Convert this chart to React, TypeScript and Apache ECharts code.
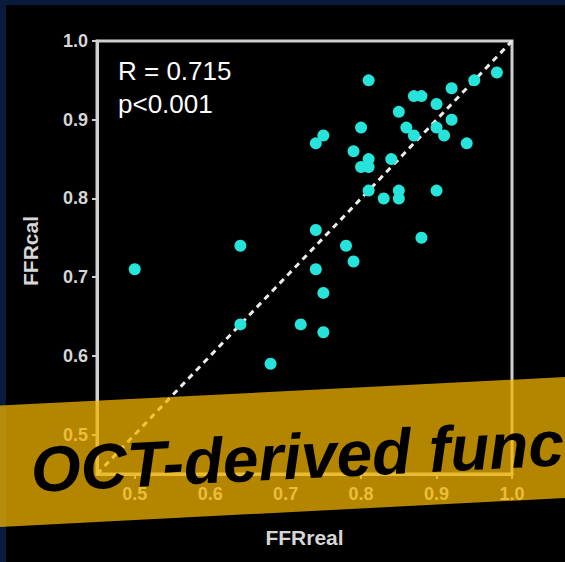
import React, { useEffect, useRef } from "react";
import * as echarts from "echarts";

const xTicks = [0.5, 0.6, 0.7, 0.8, 0.9, 1.0];
const ffrReal = [
  0.50, 0.64, 0.64, 0.68, 0.72, 0.74, 0.74, 0.75, 0.75, 0.74, 0.75, 0.78, 0.79,
  0.80, 0.79, 0.80, 0.81, 0.81, 0.81, 0.81, 0.83, 0.84, 0.85, 0.85, 0.85, 0.86,
  0.87, 0.87, 0.88, 0.88, 0.90, 0.90, 0.90, 0.91, 0.92, 0.92, 0.94, 0.95, 0.98,
];
const ffrCal = [
  0.71, 0.74, 0.64, 0.59, 0.64, 0.76, 0.71, 0.68, 0.63, 0.87, 0.88, 0.74, 0.72,
  0.89, 0.86, 0.84, 0.85, 0.84, 0.95, 0.81, 0.80, 0.85, 0.91, 0.81, 0.80, 0.89,
  0.88, 0.93, 0.93, 0.75, 0.92, 0.81, 0.89, 0.88, 0.94, 0.90, 0.87, 0.95, 0.96,
];
const identityLine = [
  [0.45, 0.45],
  [1.0, 1.0],
];
const statLines = ["R = 0.715", "p<0.001"];
const bannerText = "OCT-derived func";

export default function App() {
  const ref = useRef<HTMLDivElement>(null);
  useEffect(() => {
    document.body.style.margin = "0";
    if (!ref.current) return;
    const chart = echarts.init(ref.current, null, { renderer: "svg" });
    const labelStyle = {
      color: "#d6d6d6",
      fontWeight: "bold" as const,
      fontSize: 18,
      fontFamily: "Liberation Sans, Arial, sans-serif",
    };
    chart.setOption({
      animation: false,
      backgroundColor: "#0b1a3c",
      grid: {
        left: 97,
        right: 53,
        top: 41,
        bottom: 88,
        show: true,
        borderColor: "#cfcfcf",
        borderWidth: 3,
        backgroundColor: "transparent",
      },
      xAxis: {
        type: "value",
        min: 0.45,
        max: 1.0,
        interval: 0.05,
        name: "FFRreal",
        nameLocation: "middle",
        nameGap: 53,
        nameTextStyle: { ...labelStyle, fontSize: 21 },
        axisLine: { show: true, lineStyle: { color: "#cfcfcf", width: 3 } },
        axisTick: {
          show: true,
          length: 5,
          lineStyle: { color: "#cfcfcf", width: 2 },
          customValues: xTicks,
        },
        axisLabel: {
          ...labelStyle,
          margin: 11,
          customValues: xTicks,
          formatter: (v: number) => v.toFixed(1),
        },
        splitLine: { show: false },
      },
      yAxis: {
        type: "value",
        min: 0.45,
        max: 1.0,
        interval: 0.05,
        name: "FFRcal",
        nameLocation: "middle",
        nameGap: 56,
        nameTextStyle: { ...labelStyle, fontSize: 21, padding: [0, 0, 0, 13] },
        axisLine: { show: true, lineStyle: { color: "#cfcfcf", width: 3 } },
        axisTick: {
          show: true,
          length: 5,
          lineStyle: { color: "#cfcfcf", width: 2 },
          customValues: xTicks,
        },
        axisLabel: {
          ...labelStyle,
          margin: 9,
          customValues: xTicks,
          formatter: (v: number) => v.toFixed(1),
        },
        splitLine: { show: false },
      },
      series: [
        {
          type: "line",
          data: identityLine,
          symbol: "none",
          z: 1,
          lineStyle: { color: "#ececec", width: 3, type: [6, 5] },
        },
        {
          type: "scatter",
          data: ffrReal.map((x, i) => [x, ffrCal[i]]),
          symbolSize: 12,
          z: 3,
          itemStyle: { color: "#26e4da", opacity: 1 },
        },
      ],
      graphic: [
        {
          type: "rect",
          z: -10,
          shape: { x: 6, y: 5, width: 559, height: 557 },
          style: { fill: "#000000" },
        },
        {
          type: "text",
          z: 50,
          x: 118,
          y: 71,
          style: {
            text: statLines[0],
            fill: "#ffffff",
            font: "26px 'Liberation Sans', Arial, sans-serif",
            textVerticalAlign: "middle",
          },
        },
        {
          type: "text",
          z: 50,
          x: 118,
          y: 104,
          style: {
            text: statLines[1],
            fill: "#ffffff",
            font: "26px 'Liberation Sans', Arial, sans-serif",
            textVerticalAlign: "middle",
          },
        },
        {
          type: "polygon",
          z: 100,
          shape: {
            points: [
              [0, 405.6],
              [565, 377],
              [565, 498],
              [0, 527],
            ],
          },
          style: { fill: "rgba(243,181,0,0.74)" },
        },
        {
          type: "text",
          z: 101,
          x: 31,
          y: 470,
          rotation: 0.05,
          style: {
            text: bannerText,
            fill: "#000000",
            font: "italic bold 64px 'Liberation Sans', Arial, sans-serif",
            textVerticalAlign: "middle",
          },
        },
      ],
    });
    return () => chart.dispose();
  }, []);
  return (
    <div
      ref={ref}
      style={{ position: "absolute", left: 0, top: 0, width: 565, height: 562 }}
    />
  );
}
